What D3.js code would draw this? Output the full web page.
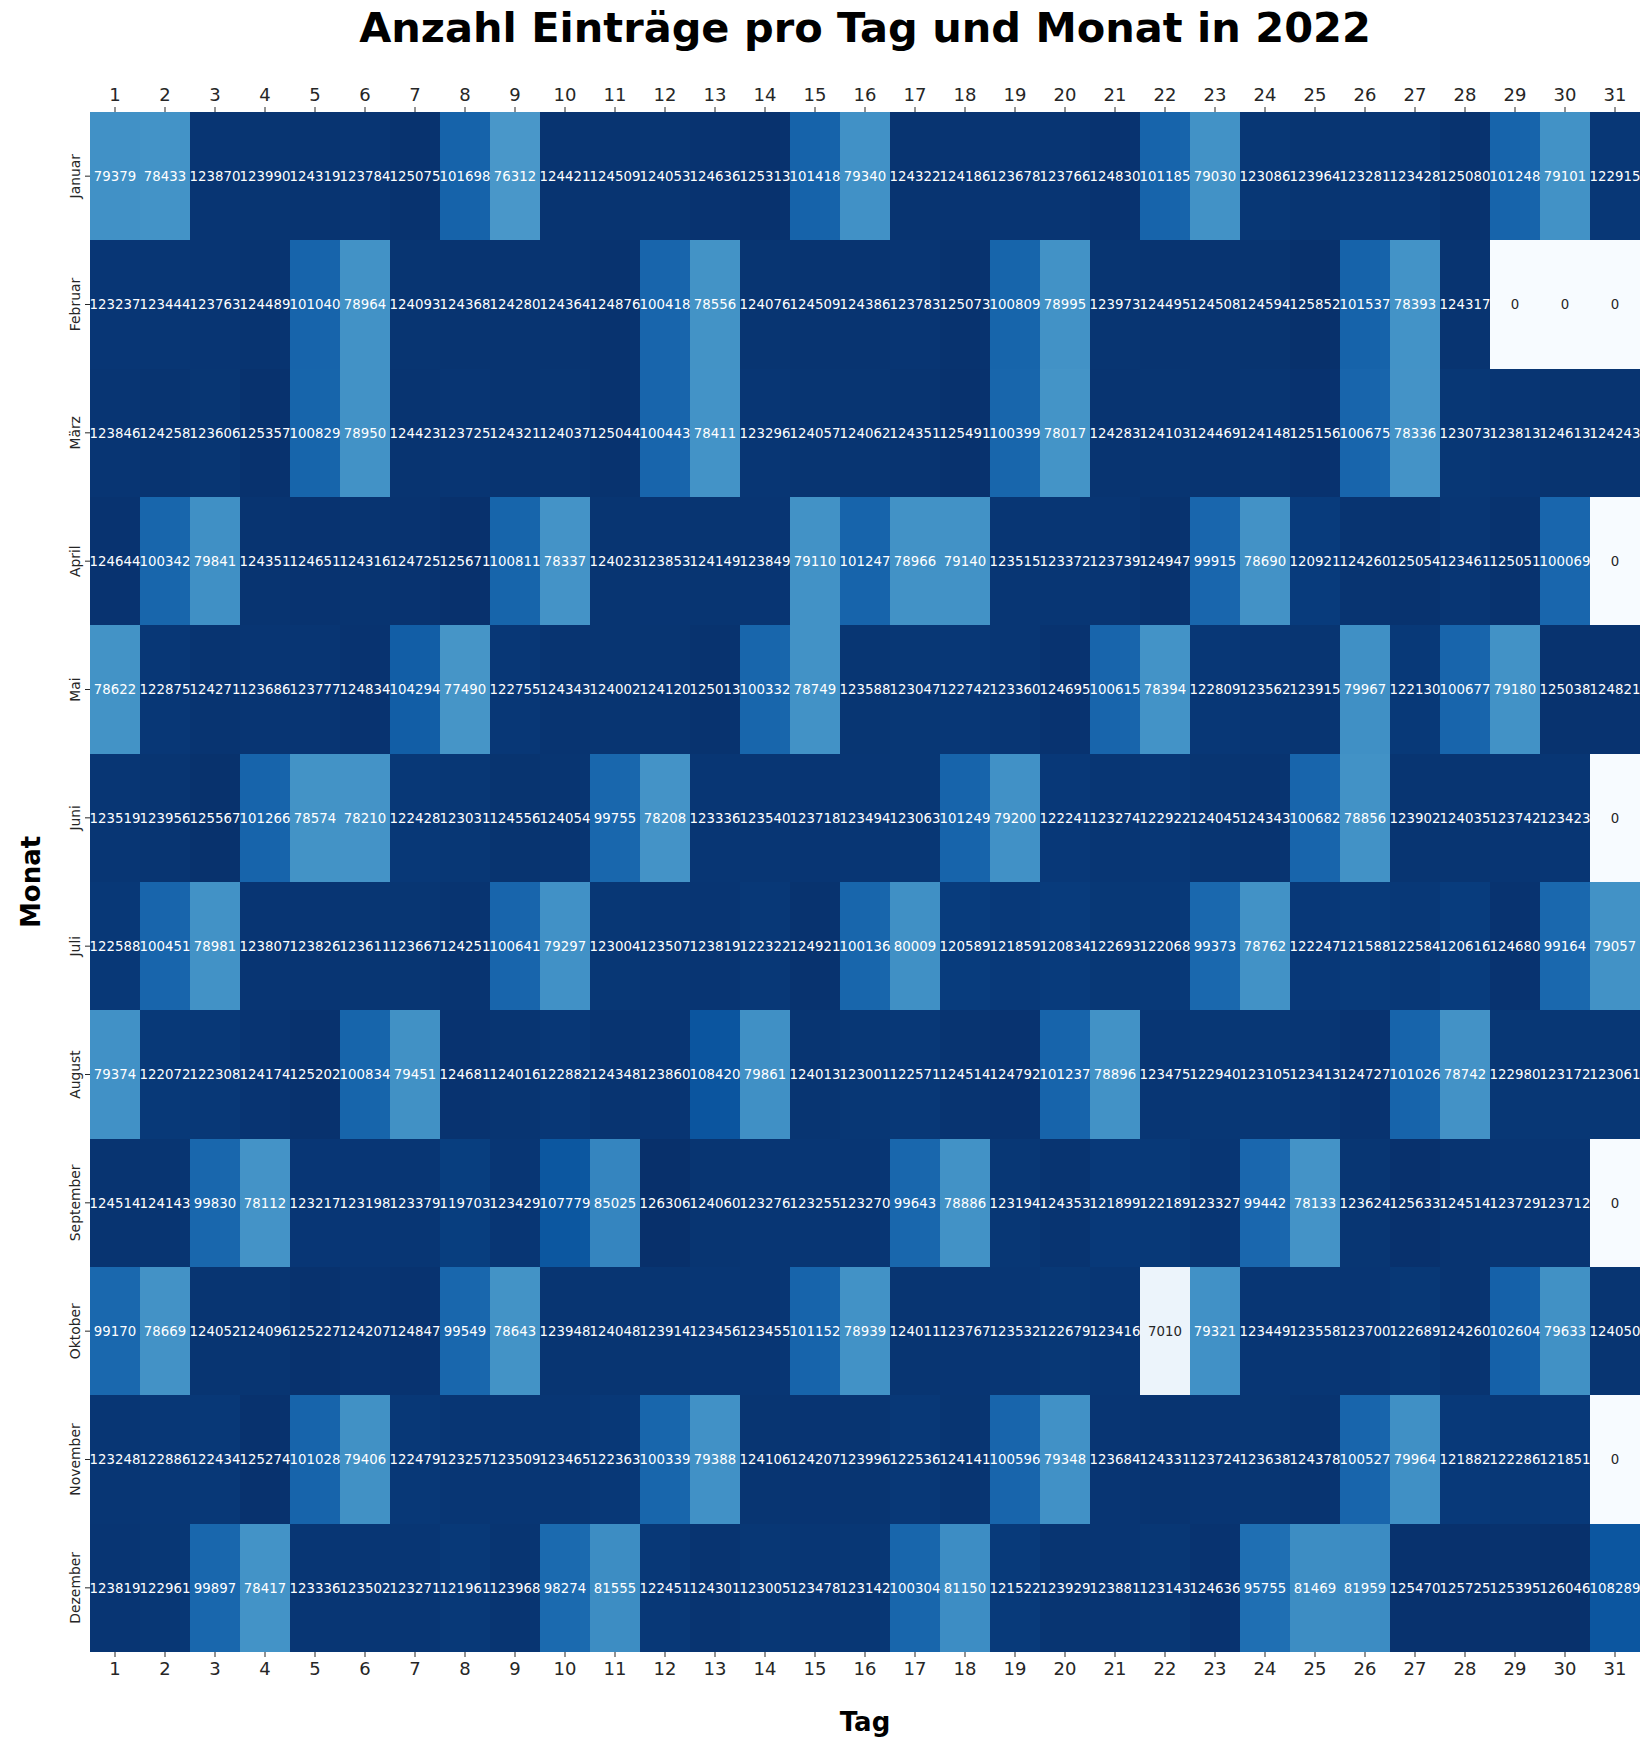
<!DOCTYPE html>
<html>
<head>
<meta charset="utf-8">
<script src="https://cdn.jsdelivr.net/npm/d3@7"></script>
<style>
  body { margin: 0; background: white; }
  svg { display: block; font-family: "DejaVu Sans", sans-serif; }
</style>
</head>
<body>
<svg id="chart" width="1651" height="1748"></svg>
<script>
// Daten: Einträge pro Tag (Spalten 1..31) für jeden Monat
const tage = [1, 2, 3, 4, 5, 6, 7, 8, 9, 10, 11, 12, 13, 14, 15, 16, 17, 18, 19, 20, 21, 22, 23, 24, 25, 26, 27, 28, 29, 30, 31];
const monate = ["Januar", "Februar", "März", "April", "Mai", "Juni", "Juli", "August", "September", "Oktober", "November", "Dezember"];

const januar = [79379, 78433, 123870, 123990, 124319, 123784, 125075, 101698, 76312, 124421, 124509, 124053, 124636, 125313, 101418, 79340, 124322, 124186, 123678, 123766, 124830, 101185, 79030, 123086, 123964, 123281, 123428, 125080, 101248, 79101, 122915];
const februar = [123237, 123444, 123763, 124489, 101040, 78964, 124093, 124368, 124280, 124364, 124876, 100418, 78556, 124076, 124509, 124386, 123783, 125073, 100809, 78995, 123973, 124495, 124508, 124594, 125852, 101537, 78393, 124317, 0, 0, 0];
const maerz = [123846, 124258, 123606, 125357, 100829, 78950, 124423, 123725, 124321, 124037, 125044, 100443, 78411, 123296, 124057, 124062, 124351, 125491, 100399, 78017, 124283, 124103, 124469, 124148, 125156, 100675, 78336, 123073, 123813, 124613, 124243];
const april = [124644, 100342, 79841, 124351, 124651, 124316, 124725, 125671, 100811, 78337, 124023, 123853, 124149, 123849, 79110, 101247, 78966, 79140, 123515, 123372, 123739, 124947, 99915, 78690, 120921, 124260, 125054, 123461, 125051, 100069, 0];
const mai = [78622, 122875, 124271, 123686, 123777, 124834, 104294, 77490, 122755, 124343, 124002, 124120, 125013, 100332, 78749, 123588, 123047, 122742, 123360, 124695, 100615, 78394, 122809, 123562, 123915, 79967, 122130, 100677, 79180, 125038, 124821];
const juni = [123519, 123956, 125567, 101266, 78574, 78210, 122428, 123031, 124556, 124054, 99755, 78208, 123336, 123540, 123718, 123494, 123063, 101249, 79200, 122241, 123274, 122922, 124045, 124343, 100682, 78856, 123902, 124035, 123742, 123423, 0];
const juli = [122588, 100451, 78981, 123807, 123826, 123611, 123667, 124251, 100641, 79297, 123004, 123507, 123819, 122322, 124921, 100136, 80009, 120589, 121859, 120834, 122693, 122068, 99373, 78762, 122247, 121588, 122584, 120616, 124680, 99164, 79057];
const august = [79374, 122072, 122308, 124174, 125202, 100834, 79451, 124681, 124016, 122882, 124348, 123860, 108420, 79861, 124013, 123001, 122571, 124514, 124792, 101237, 78896, 123475, 122940, 123105, 123413, 124727, 101026, 78742, 122980, 123172, 123061];
const september = [124514, 124143, 99830, 78112, 123217, 123198, 123379, 119703, 123429, 107779, 85025, 126306, 124060, 123276, 123255, 123270, 99643, 78886, 123194, 124353, 121899, 122189, 123327, 99442, 78133, 123624, 125633, 124514, 123729, 123712, 0];
const oktober = [99170, 78669, 124052, 124096, 125227, 124207, 124847, 99549, 78643, 123948, 124048, 123914, 123456, 123455, 101152, 78939, 124011, 123767, 123532, 122679, 123416, 7010, 79321, 123449, 123558, 123700, 122689, 124260, 102604, 79633, 124050];
const november = [123248, 122886, 122434, 125274, 101028, 79406, 122479, 123257, 123509, 123465, 122363, 100339, 79388, 124106, 124207, 123996, 122536, 124141, 100596, 79348, 123684, 124331, 123724, 123638, 124378, 100527, 79964, 121882, 122286, 121851, 0];
const dezember = [123819, 122961, 99897, 78417, 123336, 123502, 123271, 121961, 123968, 98274, 81555, 122451, 124301, 123005, 123478, 123142, 100304, 81150, 121522, 123929, 123881, 123143, 124636, 95755, 81469, 81959, 125470, 125725, 125395, 126046, 108289];

const werte = [januar, februar, maerz, april, mai, juni, juli, august, september, oktober, november, dezember];

// Zellen als flache Liste
const zellen = [];
werte.forEach(function (reihe, i) {
    reihe.forEach(function (v, j) {
        zellen.push({ monat: monate[i], tag: tage[j], wert: v });
    });
});

// Plotbereich
const plotLinks = 90, plotRechts = 1640, plotOben = 112, plotUnten = 1652;

const svg = d3.select("#chart");

const x = d3.scaleBand()
    .domain(tage)
    .range([plotLinks, plotRechts]);

const y = d3.scaleBand()
    .domain(monate)
    .range([plotOben, plotUnten]);

// Blues wie in matplotlib (linear zwischen den 9 ColorBrewer Farben)
const blues = ["#f7fbff", "#deebf7", "#c6dbef", "#9ecae1", "#6baed6", "#4292c6", "#2171b5", "#08519c", "#08306b"];
const maxWert = d3.max(zellen, (d) => d.wert);
const farbe = d3.scaleLinear()
    .domain(blues.map((c, i) => i / (blues.length - 1) * maxWert))
    .range(blues)
    .interpolate(d3.interpolateRgb);

// Textfarbe je nach Helligkeit der Zelle (wie seaborn)
function luminanz(c) {
    const rgb = d3.rgb(c);
    const lin = [rgb.r, rgb.g, rgb.b].map(function (v) {
        v = v / 255;
        return v <= 0.03928 ? v / 12.92 : Math.pow((v + 0.055) / 1.055, 2.4);
    });
    return 0.2126 * lin[0] + 0.7152 * lin[1] + 0.0722 * lin[2];
}

svg.append("g")
    .selectAll("rect")
    .data(zellen)
    .enter()
    .append("rect")
    .attr("x", (d) => x(d.tag))
    .attr("y", (d) => y(d.monat))
    .attr("width", x.bandwidth())
    .attr("height", y.bandwidth())
    .attr("fill", (d) => farbe(d.wert))
    .attr("shape-rendering", "crispEdges");

svg.append("g")
    .selectAll("text")
    .data(zellen)
    .enter()
    .append("text")
    .attr("x", (d) => x(d.tag) + x.bandwidth() / 2)
    .attr("y", (d) => y(d.monat) + y.bandwidth() / 2)
    .attr("dy", "0.36em")
    .attr("text-anchor", "middle")
    .attr("font-size", "13.3px")
    .attr("fill", (d) => luminanz(farbe(d.wert)) > 0.408 ? "#262626" : "white")
    .text((d) => d.wert);

// Achsen
const achseUnten = svg.append("g")
    .attr("transform", "translate(0," + plotUnten + ")")
    .call(d3.axisBottom(x).tickSize(5).tickPadding(5));

const achseOben = svg.append("g")
    .attr("transform", "translate(0," + plotOben + ")")
    .call(d3.axisTop(x).tickSize(5).tickPadding(6));

const achseLinks = svg.append("g")
    .attr("transform", "translate(" + plotLinks + ",0)")
    .call(d3.axisLeft(y).tickSize(5).tickPadding(5));

[achseUnten, achseOben, achseLinks].forEach(function (a) {
    a.select(".domain").remove();
    a.selectAll(".tick line").attr("stroke", "#262626").attr("stroke-width", 1);
    a.selectAll("text").attr("fill", "#262626").attr("font-family", "DejaVu Sans");
});
achseUnten.selectAll("text").attr("font-size", "18px");
achseOben.selectAll("text").attr("font-size", "18px");

achseLinks.selectAll("text")
    .attr("font-size", "13.9px")
    .attr("text-anchor", "middle")
    .attr("x", 0)
    .attr("dy", "0")
    .attr("y", -10)
    .attr("transform", "rotate(-90)");

// Titel und Achsenbeschriftungen
svg.append("text")
    .attr("x", (plotLinks + plotRechts) / 2)
    .attr("y", 42)
    .attr("text-anchor", "middle")
    .attr("font-size", "41.5px")
    .attr("font-weight", "bold")
    .attr("fill", "black")
    .text("Anzahl Einträge pro Tag und Monat in 2022");

svg.append("text")
    .attr("x", (plotLinks + plotRechts) / 2)
    .attr("y", 1731)
    .attr("text-anchor", "middle")
    .attr("font-size", "26px")
    .attr("font-weight", "bold")
    .attr("fill", "black")
    .text("Tag");

svg.append("text")
    .attr("transform", "translate(40," + ((plotOben + plotUnten) / 2) + ") rotate(-90)")
    .attr("text-anchor", "middle")
    .attr("font-size", "26px")
    .attr("font-weight", "bold")
    .attr("fill", "black")
    .text("Monat");
</script>
</body>
</html>
